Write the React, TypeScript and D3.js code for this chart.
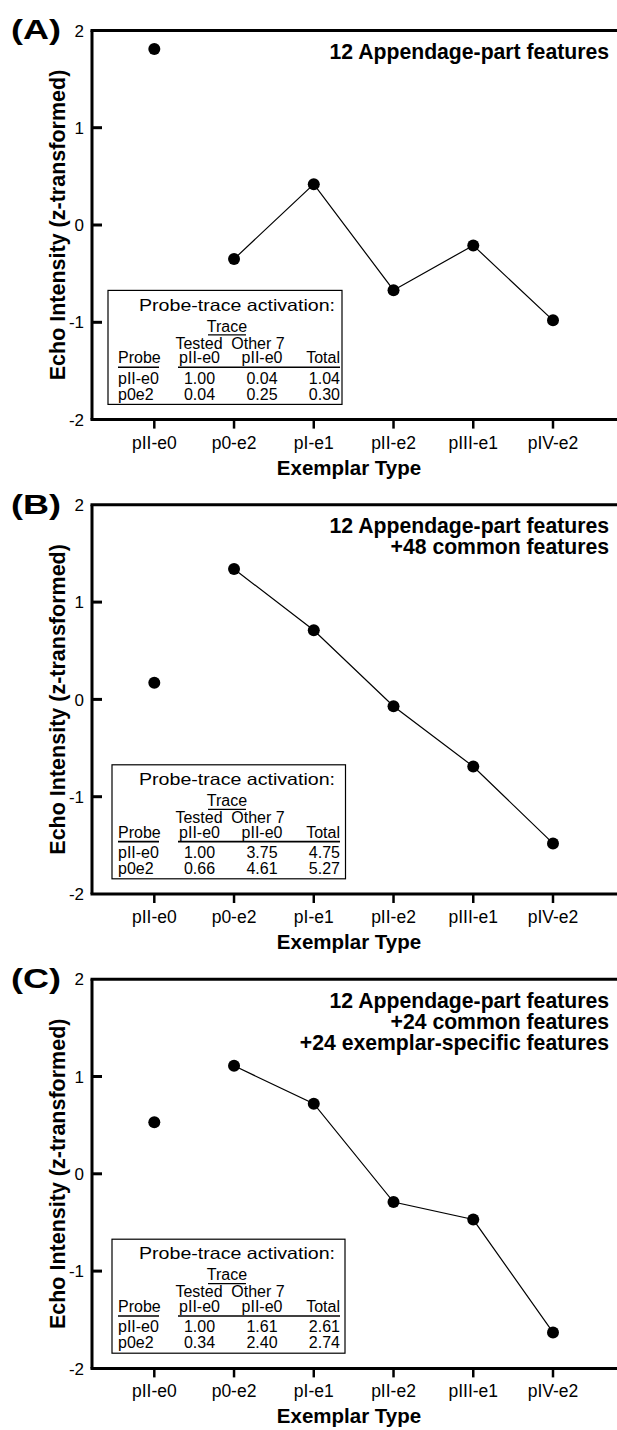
import React from "react";
import * as d3 from "d3";

const categories = ["pII-e0", "p0-e2", "pI-e1", "pII-e2", "pIII-e1", "pIV-e2"];
const yTicks = [2, 1, 0, -1, -2];

const seriesA = [1.81, -0.35, 0.42, -0.67, -0.21, -0.98];
const seriesB = [0.17, 1.34, 0.71, -0.07, -0.69, -1.48];
const seriesC = [0.53, 1.11, 0.72, -0.29, -0.47, -1.63];

const titlesA = ["12 Appendage-part features"];
const titlesB = ["12 Appendage-part features", "+48 common features"];
const titlesC = ["12 Appendage-part features", "+24 common features", "+24 exemplar-specific features"];

const tableHeader = ["Probe", "pII-e0", "pII-e0", "Total"];
const tableA = [["pII-e0", "1.00", "0.04", "1.04"], ["p0e2", "0.04", "0.25", "0.30"]];
const tableB = [["pII-e0", "1.00", "3.75", "4.75"], ["p0e2", "0.66", "4.61", "5.27"]];
const tableC = [["pII-e0", "1.00", "1.61", "2.61"], ["p0e2", "0.34", "2.40", "2.74"]];

const panelLetters = ["(A)", "(B)", "(C)"];

const FONT = "'Liberation Sans', Arial, Helvetica, sans-serif";

const W = 617;
const H = 1430;
const PANEL_TOP = 30.4;
const PANEL_STEP = 474.4;
const PLOT_H = 389.2;
const AXIS_X = 92;

const panels = [
  { letter: panelLetters[0], values: seriesA, titles: titlesA, table: tableA, boxLeft: 108, boxRight: 342 },
  { letter: panelLetters[1], values: seriesB, titles: titlesB, table: tableB, boxLeft: 112, boxRight: 345.5 },
  { letter: panelLetters[2], values: seriesC, titles: titlesC, table: tableC, boxLeft: 112, boxRight: 345 },
];

function Table({ left, right, top, rows }: { left: number; right: number; top: number; rows: string[][] }) {
  const cx = 112; // content origin
  const h = 114;
  const fs = 16;
  const colX = [6, 87.5, 150, 228];
  return (
    <g fontFamily={FONT} fontSize={fs} fill="#000">
      <rect x={left} y={top} width={right - left} height={h} fill="#fff" stroke="#000" strokeWidth={1.2} />
      <g transform={`translate(${cx},${top})`}>
        <text x={125} y={20.3} textAnchor="middle" fontSize={16.5} textLength={196} lengthAdjust="spacingAndGlyphs">
          Probe-trace activation:
        </text>
        <text x={115} y={41.3} textAnchor="middle">Trace</text>
        <line x1={96} x2={134} y1={44.5} y2={44.5} stroke="#000" strokeWidth={1.2} />
        <text x={87} y={58.3} textAnchor="middle">Tested</text>
        <text x={146} y={58.3} textAnchor="middle">Other 7</text>
        <text x={colX[0]} y={72.8}>{tableHeader[0]}</text>
        <text x={colX[1]} y={72.8} textAnchor="middle">{tableHeader[1]}</text>
        <text x={colX[2]} y={72.8} textAnchor="middle">{tableHeader[2]}</text>
        <text x={colX[3]} y={72.8} textAnchor="end">{tableHeader[3]}</text>
        <line x1={6} x2={47} y1={76.8} y2={76.8} stroke="#000" strokeWidth={1.6} />
        <line x1={66} x2={228} y1={76.8} y2={76.8} stroke="#000" strokeWidth={1.6} />
        {rows.map((r, i) => (
          <g key={i}>
            <text x={colX[0]} y={93.3 + i * 16}>{r[0]}</text>
            <text x={colX[1]} y={93.3 + i * 16} textAnchor="middle">{r[1]}</text>
            <text x={colX[2]} y={93.3 + i * 16} textAnchor="middle">{r[2]}</text>
            <text x={colX[3]} y={93.3 + i * 16} textAnchor="end">{r[3]}</text>
          </g>
        ))}
      </g>
    </g>
  );
}

function Panel({ idx }: { idx: number }) {
  const p = panels[idx];
  const top = PANEL_TOP + idx * PANEL_STEP;
  const bottom = top + PLOT_H;
  const y = d3.scaleLinear().domain([-2, 2]).range([bottom, top]);
  const x = d3.scaleLinear().domain([0, categories.length - 1]).range([154.3, 553]);
  const linePts = p.values.map((v, i) => [x(i), y(v)] as [number, number]).slice(1);
  const line = d3.line()(linePts) || "";
  return (
    <g>
      {/* frame */}
      <line x1={AXIS_X - 1.5} x2={W} y1={top} y2={top} stroke="#000" strokeWidth={3} />
      <line x1={AXIS_X - 1.5} x2={W} y1={bottom} y2={bottom} stroke="#000" strokeWidth={3} />
      <line x1={AXIS_X} x2={AXIS_X} y1={top} y2={bottom} stroke="#000" strokeWidth={3} />
      {/* y ticks */}
      {yTicks.map((t) => (
        <g key={t}>
          {t !== 2 && t !== -2 && (
            <line x1={AXIS_X} x2={AXIS_X + 10} y1={y(t)} y2={y(t)} stroke="#000" strokeWidth={3} />
          )}
          <text x={84} y={y(t)} dy="0.36em" textAnchor="end" fontFamily={FONT} fontSize={17}>
            {t}
          </text>
        </g>
      ))}
      {/* x ticks */}
      {categories.map((c, i) => (
        <g key={c}>
          <line x1={x(i)} x2={x(i)} y1={bottom} y2={bottom + 9} stroke="#000" strokeWidth={2.5} />
          <text x={x(i)} y={bottom + 29} textAnchor="middle" fontFamily={FONT} fontSize={17.5}>
            {c}
          </text>
        </g>
      ))}
      <text x={349} y={bottom + 55} textAnchor="middle" fontFamily={FONT} fontSize={20.5} fontWeight="bold">
        Exemplar Type
      </text>
      <text
        transform={`translate(57,${(top + bottom) / 2}) rotate(-90)`}
        textAnchor="middle"
        dy="0.36em"
        fontFamily={FONT}
        fontSize={21.5}
        fontWeight="bold"
      >
        Echo Intensity (z-transformed)
      </text>
      <text
        x={11}
        y={top + 9}
        fontFamily={FONT}
        fontSize={27}
        fontWeight="bold"
        textLength={50}
        lengthAdjust="spacingAndGlyphs"
      >
        {p.letter}
      </text>
      {p.titles.map((t, i) => (
        <text
          key={i}
          x={609}
          y={top + 28.5 + i * 21}
          textAnchor="end"
          fontFamily={FONT}
          fontSize={21.2}
          fontWeight="bold"
        >
          {t}
        </text>
      ))}
      <Table left={p.boxLeft} right={p.boxRight} top={top + 260} rows={p.table} />
      <path d={line} fill="none" stroke="#000" strokeWidth={1.2} />
      {p.values.map((v, i) => (
        <circle key={i} cx={x(i)} cy={y(v)} r={6} fill="#000" />
      ))}
    </g>
  );
}

export default function App() {
  return (
    <svg
      width={W}
      height={H}
      viewBox={`0 0 ${W} ${H}`}
      style={{ position: "absolute", left: 0, top: 0, background: "#fff" }}
    >
      <rect x={0} y={0} width={W} height={H} fill="#fff" />
      {panels.map((_, i) => (
        <Panel key={i} idx={i} />
      ))}
    </svg>
  );
}
